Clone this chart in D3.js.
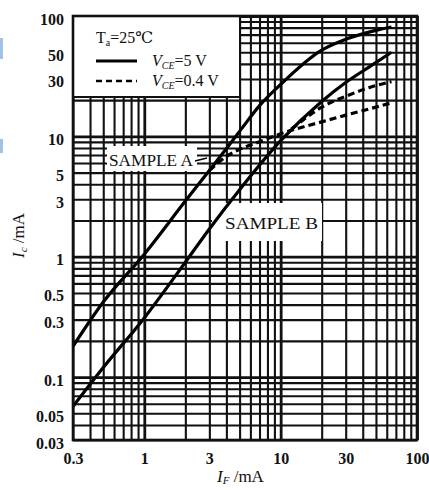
<!DOCTYPE html>
<html>
<head>
<meta charset="utf-8">
<script src="https://cdn.jsdelivr.net/npm/d3@7"></script>
<style>
  html, body { margin: 0; padding: 0; background: #fff; }
  svg { display: block; }
  text { font-family: "Liberation Serif", "DejaVu Serif", serif; fill: #111; }
</style>
</head>
<body>
<svg id="chart"></svg>
<script>
// tick labels
const xTicks = [0.3, 1, 3, 10, 30, 100];
const yTicks = [0.03, 0.05, 0.1, 0.3, 0.5, 1, 3, 5, 10, 30, 50, 100];

// sample A, Vce = 5 V (solid)
const ifA5 = [0.3, 0.5, 1, 2, 3, 5, 7, 10, 20, 30, 50, 65];
const icA5 = [0.18, 0.42, 1.05, 2.9, 5.2, 11, 18, 27, 52, 64, 76, 81];
// sample A, Vce = 0.4 V (dashed)
const ifA04 = [3, 4, 5, 7, 10, 20, 30, 50, 65];
const icA04 = [5.2, 6.8, 7.8, 9.0, 10.5, 13.2, 15, 17.5, 19];
// sample B, Vce = 5 V (solid)
const ifB5 = [0.3, 0.5, 1, 2, 3, 5, 10, 20, 30, 45, 65];
const icB5 = [0.057, 0.12, 0.31, 0.9, 1.7, 3.6, 9.2, 19.5, 28, 38, 50];
// sample B, Vce = 0.4 V (dashed)
const ifB04 = [12, 15, 20, 30, 45, 65];
const icB04 = [11.5, 14, 17.5, 21.5, 25.5, 28.5];

const width = 429;
const height = 490;
const pL = 73, pR = 417, pT = 16, pB = 440;

const svg = d3.select("#chart").attr("width", width).attr("height", height);

// scales
const x = d3.scaleLog().domain([0.3, 100]).range([pL, pR]);
const y = d3.scaleLog().domain([0.03, 100]).range([pB, pT]);

const isDecade = (v) => Math.abs(Math.log10(v) - Math.round(Math.log10(v))) < 1e-6;

// little blue scan marks on the left edge
svg.append("rect").attr("x", 0).attr("y", 38).attr("width", 3).attr("height", 21).attr("fill", "#9fc3e6");
svg.append("rect").attr("x", 0).attr("y", 139).attr("width", 3).attr("height", 14).attr("fill", "#9fc3e6");

// grid
const gx = svg.append("g")
  .attr("transform", `translate(0,${pB})`)
  .call(d3.axisBottom(x).tickValues(x.ticks()).tickSize(-(pB - pT)).tickFormat(""));
gx.select(".domain").remove();
gx.selectAll("line")
  .attr("stroke", "#111")
  .attr("stroke-width", (d) => (isDecade(d) ? 2.8 : 2.1));

const gy = svg.append("g")
  .attr("transform", `translate(${pL},0)`)
  .call(d3.axisLeft(y).tickValues(y.ticks()).tickSize(-(pR - pL)).tickFormat(""));
gy.select(".domain").remove();
gy.selectAll("line")
  .attr("stroke", "#111")
  .attr("stroke-width", (d) => (isDecade(d) ? 2.8 : 2.1));

// white boxes behind labels
svg.append("rect").attr("x", 107).attr("y", 146).attr("width", 90).attr("height", 25).attr("fill", "#fff");
svg.append("rect").attr("x", 212).attr("y", 203).attr("width", 110).attr("height", 38).attr("fill", "#fff");

// legend box
svg.append("rect")
  .attr("x", pL).attr("y", pT)
  .attr("width", 240 - pL).attr("height", 97 - pT)
  .attr("fill", "#fff").attr("stroke", "#111").attr("stroke-width", 2);

// curves
const line = d3.line()
  .x((d) => x(d[0]))
  .y((d) => y(d[1]))
  .curve(d3.curveMonotoneX);

const curves = [
  { xs: ifA5, ys: icA5, dash: null },
  { xs: ifA04, ys: icA04, dash: "7,4" },
  { xs: ifB5, ys: icB5, dash: null },
  { xs: ifB04, ys: icB04, dash: "7,4" }
];

svg.selectAll("path.curve")
  .data(curves)
  .enter()
  .append("path")
  .attr("class", "curve")
  .attr("d", (c) => line(c.xs.map((v, i) => [v, c.ys[i]])))
  .attr("fill", "none")
  .attr("stroke", "#000")
  .attr("stroke-width", 3.2)
  .attr("stroke-dasharray", (c) => c.dash);

// frame
svg.append("rect")
  .attr("x", pL).attr("y", pT)
  .attr("width", pR - pL).attr("height", pB - pT)
  .attr("fill", "none").attr("stroke", "#111").attr("stroke-width", 2.6);

// tick labels
const ya = svg.append("g")
  .attr("transform", `translate(${pL - 9},0)`)
  .call(d3.axisLeft(y).tickValues(yTicks).tickSize(0).tickFormat((d) => String(d)));
ya.select(".domain").remove();
ya.selectAll("text")
  .attr("x", 0).attr("dy", "0.5em")
  .style("font-family", "Liberation Serif, serif")
  .style("font-size", "16px").style("font-weight", "bold").attr("fill", "#111");

const xa = svg.append("g")
  .attr("transform", `translate(0,${pB + 12})`)
  .call(d3.axisBottom(x).tickValues(xTicks).tickSize(0).tickFormat((d) => String(d)));
xa.select(".domain").remove();
xa.selectAll("text")
  .attr("y", 0).attr("dy", "0.75em")
  .style("font-family", "Liberation Serif, serif")
  .style("font-size", "16px").style("font-weight", "bold").attr("fill", "#111");

// legend
const t = svg.append("text").attr("x", 96).attr("y", 43).style("font-size", "16px");
t.append("tspan").text("T");
t.append("tspan").text("a").attr("font-size", "10px").attr("dy", 3);
t.append("tspan").text("=25℃").attr("dy", -3);

svg.append("line").attr("x1", 96).attr("x2", 137).attr("y1", 61).attr("y2", 61)
  .attr("stroke", "#000").attr("stroke-width", 3);
svg.append("line").attr("x1", 96).attr("x2", 137).attr("y1", 81).attr("y2", 81)
  .attr("stroke", "#000").attr("stroke-width", 2.6).attr("stroke-dasharray", "6,4");

const legendText = ["=5 V", "=0.4 V"];
legendText.forEach((s, i) => {
  const lt = svg.append("text").attr("x", 152).attr("y", 66 + i * 20).style("font-size", "16px");
  lt.append("tspan").text("V").style("font-style", "italic");
  lt.append("tspan").text("CE").style("font-style", "italic").attr("font-size", "10px").attr("dy", 3);
  lt.append("tspan").text(s).attr("dy", -3);
});

// sample labels
svg.append("text").attr("x", 109).attr("y", 166).text("SAMPLE A")
  .style("font-size", "17px").attr("textLength", 84).attr("lengthAdjust", "spacingAndGlyphs");
svg.append("line").attr("x1", 195).attr("y1", 161).attr("x2", 207).attr("y2", 158)
  .attr("stroke", "#000").attr("stroke-width", 1.5);
svg.append("text").attr("x", 225).attr("y", 229).text("SAMPLE B")
  .style("font-size", "17px").attr("textLength", 93).attr("lengthAdjust", "spacingAndGlyphs");

// axis titles
const xt = svg.append("text").attr("x", 217).attr("y", 482).style("font-size", "17px");
xt.append("tspan").text("I").style("font-style", "italic");
xt.append("tspan").text("F").style("font-style", "italic").attr("font-size", "11px").attr("dy", 2);
xt.append("tspan").text(" /mA").attr("dy", -2);

const yt = svg.append("text").attr("transform", "translate(24,258) rotate(-90)").style("font-size", "17px");
yt.append("tspan").text("I").style("font-style", "italic");
yt.append("tspan").text("c").style("font-style", "italic").attr("font-size", "11px").attr("dy", 3);
yt.append("tspan").text(" /mA").attr("dy", -3);
</script>
</body>
</html>
